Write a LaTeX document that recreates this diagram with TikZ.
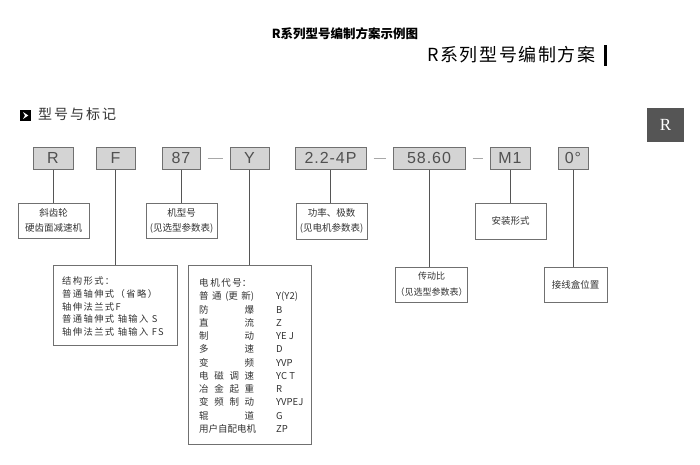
\documentclass[tikz,border=0pt]{standalone}
\usepackage{fontspec}
\setmainfont{Liberation Sans}
\newfontfamily\cjk{Noto Sans CJK SC}
\newfontfamily\cjkls[LetterSpace=15]{Noto Sans CJK SC}
\newfontfamily\cjkbig[LetterSpace=9]{Noto Sans CJK SC}
\newfontfamily\cjkhead[LetterSpace=14]{Noto Sans CJK SC}
\newfontfamily\arialls[LetterSpace=6]{Liberation Sans}
\newfontfamily\serifR{Liberation Serif}
\definecolor{boxfill}{HTML}{D4D4D4}
\definecolor{boxline}{HTML}{707070}
\definecolor{txt}{HTML}{333333}
\definecolor{toptxt}{HTML}{505050}
\definecolor{conn}{HTML}{555555}
\definecolor{dashc}{HTML}{A8A8A8}
\definecolor{darkbox}{HTML}{555555}
\begin{document}
\begin{tikzpicture}[x=1pt,y=-1pt,
  topbox/.style={draw=boxline,line width=1pt,fill=boxfill,inner sep=0pt,minimum height=22pt,
     text=toptxt,font={\arialls\fontsize{16}{16}\selectfont}},
  infobox/.style={draw=boxline,line width=0.9pt,fill=white,inner sep=0pt,align=center,
     text=txt,font={\cjk\fontsize{9.5}{15}\selectfont}},
  bigbox/.style={draw=boxline,line width=0.9pt,fill=white,inner sep=0pt},
  conline/.style={draw=conn,line width=0.9pt},
  dashline/.style={draw=dashc,line width=1pt,shorten <=7pt,shorten >=7pt},
]
\useasboundingbox[fill=white] (0,0) rectangle (700,464);

% titles
\node[font={\cjk\bfseries\fontsize{12.5}{12.5}\selectfont},text=black,inner sep=0pt] (title1) at (345,34) {R系列型号编制方案示例图};
\node[font={\cjkbig\fontsize{18}{18}\selectfont},text=black,inner sep=0pt,anchor=west] (title2) at (427,55) {R系列型号编制方案};
\fill[black] (603.5,45) rectangle (607,66);

% section heading
\node[fill=black,minimum width=11pt,minimum height=11pt,inner sep=0pt] (icon) at (25.5,115.5) {};
\fill[white] ([xshift=-2.5pt,yshift=3.5pt]icon.center) -- ([xshift=2.8pt]icon.center) -- ([xshift=-2.5pt,yshift=-3.5pt]icon.center) -- ([xshift=-0.5pt]icon.center) -- cycle;
\node[font={\cjkhead\fontsize{14}{14}\selectfont},text=txt,inner sep=0pt,anchor=west] (head) at (38,114) {型号与标记};

% dark R box
\node[fill=darkbox,minimum width=37pt,minimum height=34pt,inner sep=0pt,text=white,
  font={\serifR\fontsize{17}{17}\selectfont}] (rbox) at (665.5,125) {R};

% top row
\node[topbox,minimum width=40pt] (tR) at (53,158) {R};
\node[topbox,minimum width=39pt] (tF) at (115.5,158) {F};
\node[topbox,minimum width=38pt] (t87) at (181,158) {87};
\node[topbox,minimum width=39pt] (tY) at (249.5,158) {Y};
\node[topbox,minimum width=71pt] (tP) at (330.5,158) {2.2-4P};
\node[topbox,minimum width=72pt] (tI) at (429,158) {58.60};
\node[topbox,minimum width=40pt] (tM) at (510,158) {M1};
\node[topbox,minimum width=30pt] (tA) at (573,158) {0°};

\draw[dashline] (t87.east) -- (tY.west);
\draw[dashline] (tP.east) -- (tI.west);
\draw[dashline] (tI.east) -- (tM.west);

% second row
\node[infobox,minimum width=71pt,minimum height=35pt] (bR) at (53.5,220.5) {斜齿轮\\硬齿面减速机};
\node[infobox,minimum width=71pt,minimum height=35pt] (b87) at (181.5,220.5) {机型号\\(见选型参数表)};
\node[infobox,minimum width=71pt,minimum height=36pt] (bP) at (331.5,221) {功率、极数\\(见电机参数表)};
\node[infobox,minimum width=71pt,minimum height=36pt] (bM) at (510.5,221) {安装形式};

% third row
\node[infobox,minimum width=71pt,minimum height=35pt,font={\cjk\fontsize{9}{16}\selectfont}] (bI) at (431.5,284.5) {传动比\\（见选型参数表）};
\node[infobox,minimum width=63pt,minimum height=35pt] (bA) at (575.5,284.5) {接线盒位置};

% structure box
\node[bigbox,minimum width=124pt,minimum height=80pt] (bF) at (115,305) {};
\node[anchor=north west,inner sep=0pt,align=left,text=txt,
  font={\cjkls\fontsize{9.3}{12.8}\selectfont}] (bFt) at (62,276.5)
  {结构形式：\\普通轴伸式（省略）\\轴伸法兰式F\\普通轴伸式 轴输入 S\\轴伸法兰式 轴输入 FS};

% motor box
\node[bigbox,minimum width=123pt,minimum height=179pt] (bY) at (249.5,354.5) {};
\node[anchor=north west,inner sep=0pt,align=left,text=txt,
  font={\cjk\fontsize{9.5}{13.25}\selectfont}] (bYt) at (199,278.5)
  {\makebox[77pt][l]{电\,机\,代\,号：}\\
   \makebox[77pt][l]{\makebox[55pt][s]{普\hfill 通\hfill (更\hfill 新)}}Y(Y2)\\
   \makebox[77pt][l]{\makebox[55pt][s]{防\hfill 爆}}B\\
   \makebox[77pt][l]{\makebox[55pt][s]{直\hfill 流}}Z\\
   \makebox[77pt][l]{\makebox[55pt][s]{制\hfill 动}}YE J\\
   \makebox[77pt][l]{\makebox[55pt][s]{多\hfill 速}}D\\
   \makebox[77pt][l]{\makebox[55pt][s]{变\hfill 频}}YVP\\
   \makebox[77pt][l]{\makebox[55pt][s]{电\hfill 磁\hfill 调\hfill 速}}YC T\\
   \makebox[77pt][l]{\makebox[55pt][s]{冶\hfill 金\hfill 起\hfill 重}}R\\
   \makebox[77pt][l]{\makebox[55pt][s]{变\hfill 频\hfill 制\hfill 动}}YVPEJ\\
   \makebox[77pt][l]{\makebox[55pt][s]{辊\hfill 道}}G\\
   \makebox[77pt][l]{用户自配电机}ZP};

% connectors
\draw[conline] (tR.south) -- (tR.south |- bR.north);
\draw[conline] (tF.south) -- (tF.south |- bF.north);
\draw[conline] (t87.south) -- (t87.south |- b87.north);
\draw[conline] (tY.south) -- (tY.south |- bY.north);
\draw[conline] (tP.south) -- (tP.south |- bP.north);
\draw[conline] (tI.south) -- (tI.south |- bI.north);
\draw[conline] (tM.south) -- (tM.south |- bM.north);
\draw[conline] (tA.south) -- (tA.south |- bA.north);
\end{tikzpicture}
\end{document}
